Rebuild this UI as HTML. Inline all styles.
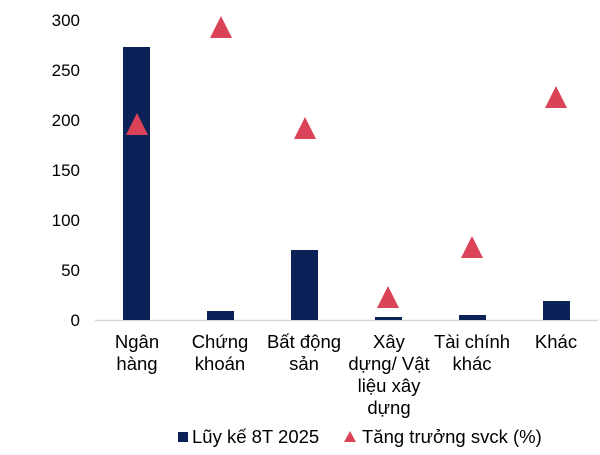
<!DOCTYPE html><html><head><style>body{margin:0;background:#fff}svg{display:block}text{font-family:"Liberation Sans",sans-serif;font-size:17px;fill:#000}.c{font-size:18.5px}</style></head><body>
<svg width="600" height="455" xmlns="http://www.w3.org/2000/svg">
<g text-anchor="end"><text x="80" y="26">300</text><text x="80" y="76">250</text><text x="80" y="126">200</text><text x="80" y="176">150</text><text x="80" y="226">100</text><text x="80" y="276">50</text><text x="80" y="326">0</text></g>
<line x1="95" y1="320.5" x2="598" y2="320.5" stroke="#d9d9d9" stroke-width="1.5"/>
<g fill="#0c2157">
<rect x="123" y="47" width="27" height="273"/>
<rect x="207" y="311" width="27" height="9"/>
<rect x="291" y="250" width="27" height="70"/>
<rect x="375" y="317" width="27" height="3"/>
<rect x="459" y="315" width="27" height="5"/>
<rect x="543" y="301" width="27" height="19"/>
</g>
<g fill="#da4258">
<polygon points="137,113 126,135 148,135"/>
<polygon points="221,16 210,38 232,38"/>
<polygon points="305,117 294,139 316,139"/>
<polygon points="388,286 377,308 399,308"/>
<polygon points="472,236 461,258 483,258"/>
<polygon points="556,86 545,108 567,108"/>
</g>
<g text-anchor="middle" class="c">
<text class="c" x="137" y="348">Ngân</text><text class="c" x="137" y="370">hàng</text>
<text class="c" x="220" y="348">Chứng</text><text class="c" x="220" y="370">khoán</text>
<text class="c" x="304" y="348">Bất động</text><text class="c" x="304" y="370">sản</text>
<text class="c" x="389" y="348">Xây</text><text class="c" x="389" y="370">dựng/ Vật</text><text class="c" x="389" y="392">liệu xây</text><text class="c" x="389" y="414">dựng</text>
<text class="c" x="472" y="348">Tài chính</text><text class="c" x="472" y="370">khác</text>
<text class="c" x="556" y="348">Khác</text>
</g>
<rect x="178" y="432" width="10" height="10" fill="#0c2157"/>
<text class="c" x="192" y="443">Lũy kế 8T 2025</text>
<polygon points="350,431 344,442 356,442" fill="#da4258"/>
<text class="c" x="362" y="443">Tăng trưởng svck (%)</text>
</svg></body></html>
